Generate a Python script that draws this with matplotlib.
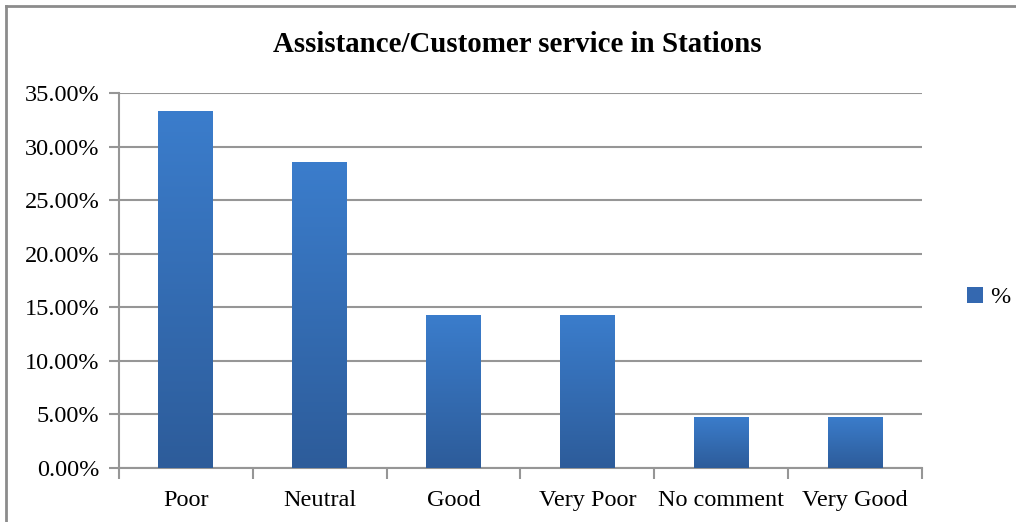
import numpy as np
import matplotlib.pyplot as plt
from matplotlib.colors import LinearSegmentedColormap
from matplotlib.patches import Patch
from matplotlib.lines import Line2D
from matplotlib.ticker import FuncFormatter

categories = ['Poor', 'Neutral', 'Good', 'Very Poor', 'No comment', 'Very Good']
values = [33.33, 28.57, 14.29, 14.29, 4.76, 4.76]
yticks = [0, 5, 10, 15, 20, 25, 30, 35]

plt.rcParams['font.family'] = ['Liberation Serif', 'DejaVu Serif']

fig = plt.figure(figsize=(10.16, 5.22), dpi=100)
ax = fig.add_axes([0.1171, 0.1034, 0.7904, 0.7184])

x = np.arange(len(categories))
bars = ax.bar(x, values, width=0.41, color='none', zorder=3)

# gradient fill, lighter on top, darker at bottom
cmap = LinearSegmentedColormap.from_list('bluegrad', ['#2d5c9a', '#3b7dcc'])
grad = np.linspace(0, 1, 256).reshape(-1, 1)
for b in bars:
    x0, y0 = b.get_x(), b.get_y()
    w, h = b.get_width(), b.get_height()
    im = ax.imshow(grad, cmap=cmap, origin='lower', aspect='auto',
                   extent=[x0, x0 + w, y0, y0 + h], zorder=3)
    im.set_clip_path(b)

ax.set_xlim(-0.5, len(categories) - 0.5)
ax.set_ylim(0, 35)
ax.set_yticks(yticks)
ax.yaxis.set_major_formatter(FuncFormatter(lambda v, p: '%.2f%%' % v))
ax.grid(axis='y', color='#969696', linewidth=1.5, zorder=0)
ax.set_axisbelow(True)

ax.set_xticks(x)
ax.set_xticklabels(categories, fontsize=17.5)
ax.set_xticks(np.arange(-0.5, len(categories)), minor=True)
ax.tick_params(axis='x', which='major', length=0, pad=16)
ax.tick_params(axis='x', which='minor', length=8, width=1.5, color='#969696')
ax.tick_params(axis='y', labelsize=17.5, length=7, width=1.5, color='#969696', pad=7)

for s in ['top', 'right']:
    ax.spines[s].set_visible(False)
for s in ['left', 'bottom']:
    ax.spines[s].set_color('#969696')
    ax.spines[s].set_linewidth(1.5)

fig.text(0.509, 0.915, 'Assistance/Customer service in Stations',
         ha='center', va='center', fontsize=20.8, fontweight='bold')

handle = Patch(facecolor='#3468b0', edgecolor='none')
fig.legend([handle], ['%'], loc='center left', bbox_to_anchor=(0.93, 0.43),
           frameon=False, fontsize=17.5, handlelength=0.65, handleheight=0.65,
           handletextpad=0.3)

# chart frame (top and left edges visible)
fig.add_artist(Line2D([6 / 1016, 6 / 1016], [0, 1 - 5.5 / 522],
                      transform=fig.transFigure, color='#8c8c8c', linewidth=2))
fig.add_artist(Line2D([6 / 1016, 1], [1 - 5.5 / 522, 1 - 5.5 / 522],
                      transform=fig.transFigure, color='#8c8c8c', linewidth=2))

fig.savefig('out.png', dpi=100)
